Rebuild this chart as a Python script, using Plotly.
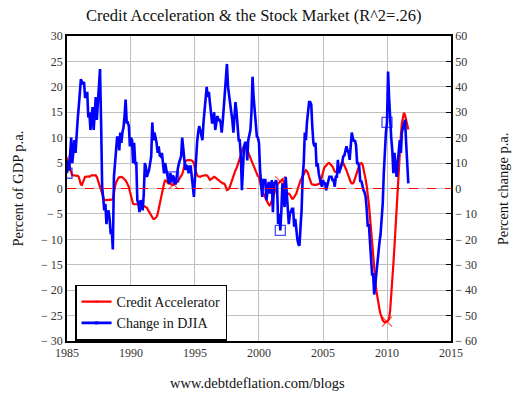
import pandas as pd
import plotly.graph_objects as go

# ---------------- data (monthly, Jan 1985 - Sep 2011) ----------------
start_month = "1985-01-01"

credit_accel = [
    6.0, 5.5, 5.0, 3.8, 3.0, 2.6, 2.6, 2.6, 2.6, 2.6, 2.5, 2.3,          # 1985
    1.5, 0.8, 0.7, 1.2, 2.0, 2.3, 2.3, 2.4, 2.4, 2.3, 2.5, 2.6,          # 1986
    2.6, 2.6, 2.6, 2.6, 2.3, 1.6, 1.0, 0.3, 0.0, -0.8, -1.6, -2.3,       # 1987
    -2.3, -2.3, -2.3, -2.3, -2.2, -2.2, -2.2, -2.1, -0.5, 0.3, 1.2, 1.8, # 1988
    2.0, 2.2, 2.3, 2.3, 2.2, 2.0, 1.8, 1.6, 1.2, 0.8, 0.3, -0.6,         # 1989
    -1.5, -2.3, -3.0, -3.1, -3.1, -3.0, -3.0, -3.0, -3.0, -3.1, -3.2, -3.3,  # 1990
    -3.4, -3.5, -3.6, -3.8, -4.2, -4.6, -5.0, -5.4, -5.8, -6.0, -6.0, -5.8,  # 1991
    -5.6, -5.0, -4.0, -2.6, -1.5, -0.6, 0.3, 1.0, 1.7, 1.5, 1.2, 1.0,    # 1992
    1.0, 0.9, 0.8, 0.7, 0.8, 1.0, 1.2, 1.3, 1.4, 1.8, 2.1, 2.3,          # 1993
    2.8, 3.6, 4.4, 5.3, 5.5, 5.6, 5.6, 5.6, 5.6, 5.5, 5.3, 5.0,          # 1994
    3.8, 3.0, 2.7, 2.4, 2.3, 2.3, 2.4, 2.5, 2.5, 2.6, 2.6, 2.6,          # 1995
    2.4, 2.0, 1.7, 1.8, 2.0, 2.2, 2.3, 2.2, 2.0, 1.7, 1.5, 1.4,          # 1996
    1.3, 1.2, 1.0, 1.0, 0.8, 0.3, -0.3, -0.2, 0.0, 0.5, 1.2, 2.0,        # 1997
    2.6, 3.2, 3.6, 4.0, 4.6, 5.3, 5.6, 6.5, 7.3, 8.0, 8.1, 8.0,          # 1998
    8.0, 7.6, 7.0, 6.6, 6.0, 5.5, 5.0, 4.4, 3.8, 3.3, 2.8, 2.4,          # 1999
    2.3, 1.0, 0.3, -0.5, -1.0, -1.4, -1.8, -2.3, -2.7, -3.1, -3.3, -3.0, # 2000
    -2.3, -1.7, -1.0, -0.3, 0.3, 0.6, 1.0, 1.2, 1.4, 1.7, 1.8, 1.5,      # 2001
    0.5, -0.5, -1.0, -1.0, -1.0, -1.2, -1.6, -2.0, -2.0, -1.7, -1.3, -1.0,  # 2002
    -0.3, 0.5, 1.0, 1.6, 2.0, 2.3, 2.8, 3.3, 3.6, 3.4, 3.0, 2.3,         # 2003
    1.6, 1.0, 0.8, 0.7, 0.7, 0.7, 0.7, 0.8, 0.9, 1.0, 1.5, 2.5,          # 2004
    3.6, 4.0, 4.3, 4.6, 4.8, 5.0, 5.0, 4.8, 4.6, 4.3, 3.8, 3.3,          # 2005
    3.3, 3.4, 3.5, 3.6, 4.0, 4.6, 5.3, 5.0, 4.6, 4.3, 3.6, 3.0,          # 2006
    2.3, 1.7, 1.3, 1.0, 1.0, 1.3, 2.0, 2.8, 3.6, 4.2, 4.6, 4.9,          # 2007
    5.0, 4.8, 4.0, 2.8, 1.8, 0.5, -1.0, -3.0, -5.5, -8.3, -11.0, -13.6,  # 2008
    -16.0, -18.0, -20.0, -21.6, -22.8, -23.8, -24.7, -25.5, -25.9, -26.2, -26.3, -26.2,  # 2009
    -26.2, -26.0, -25.6, -24.0, -21.5, -18.5, -14.9, -11.5, -7.5, -4.3, -0.5, 4.5,      # 2010
    8.0, 10.5, 12.9, 14.2, 14.9, 14.4, 13.5, 12.7, 11.6,                 # 2011
]

djia_change = [
    6, 11, 7, 12, 20, 10, 15, 19, 14, 23, 27, 32,                        # 1985
    40, 43, 42, 41, 42, 36, 36, 38, 28, 30, 23, 28,                      # 1986
    32, 23, 30, 36, 27, 35, 44, 47, 26, 0.7, -4, -8.6,                   # 1987
    -6, -14, -10, -8.6, -12, -18, -16, -24, 4.6, 10, 16.6, 20,           # 1988
    20, 15, 22, 18, 22, 24, 28.5, 35, 26, 26, 24.5, 16.6,                # 1989
    20, 19, 10, 18, 10, 10, -4.6, -6, -9.3, -4.6, -6, -8.6,              # 1990
    -2, 10, 8.6, 4.6, 6, 7.3, 10, 12.6, 26, 19, 22, 20.5,                # 1991
    18, 14, 16.6, 13, 12.6, 14, 8, 6, 10, 8, 4.6, 3,                     # 1992
    2, 6, 2.6, 5, 4.6, 2, 2, 6, 8, 10, 12, 12.6,                         # 1993
    20, 15, 11, 7.3, 9, 8.6, 6, 8.6, 8.6, 3, 0.7, -3.3,                  # 1994
    5, 12.6, 18, 22, 24.5, 23, 21, 19, 26, 30, 36, 40,                   # 1995
    36, 38, 34, 28.5, 26, 26, 30, 23, 26, 28.5, 27, 27,                  # 1996
    26, 22, 26, 32.5, 38, 42, 49, 40, 36, 32.5, 30, 27,                  # 1997
    22, 28.5, 34, 30, 24.5, 19, 19, 12.6, -0.7, 7.3, 16.6, 18,           # 1998
    18, 11, 19, 21, 23, 30, 44, 36, 30, 23, 20.5, 20,                    # 1999
    18, 7.3, 2, -3.3, 3.3, 3.3, 3.3, -4.6, 0, 2.6, -2, 1,                # 2000
    3.3, -9.3, 2, 2, 3.3, 0.7, -14, -10, -16.5, -8.6, 2, -3,             # 2001
    -7.3, 4.6, -3, -8.6, -14, -10, -8.6, -8, -8, -15, -12, -16.5,        # 2002
    -20, -22, -22.5, -15, -8.6, 4.6, 10, 22, 19, 26, 30, 34,             # 2003
    34, 33, 24.5, 18, 16.6, 18, 8.6, 10, 6, 3.3, 2, 0.7,                 # 2004
    3.3, 2, 2, -0.7, 1, 3.3, 4.6, 4.6, 4.6, 3.3, 3.3, 0.7,               # 2005
    4.6, 4.6, 11.3, 6, 7, 8.6, 10, 12.6, 13, 15, 16.6, 15,               # 2006
    14, 11.3, 18, 22, 20, 18.5, 19, 17, 10, 10, 8.6, 2.6,                # 2007
    3, 0.7, -0.7, -1.5, -3.3, -8, -15, -14, -22, -30, -33.8, -33.8,      # 2008
    -41.7, -37.7, -33, -29.8, -24, -21, -18, -12, -6, 6, 18, 22,         # 2009
    26, 46, 36, 24.5, 20, 15, 6, 14, 10, 4.6, 10, 15,                    # 2010
    19, 14, 22, 24, 26, 27, 18, 7.3, 2,                                  # 2011
]

left_tickvals = [-30, -25, -20, -15, -10, -5, 0, 5, 10, 15, 20, 25, 30]
left_ticktext = ["\u2212 30", "\u2212 25", "\u2212 20", "\u2212 15", "\u2212 10", "\u2212 5",
                 "0", "5", "10", "15", "20", "25", "30"]
right_tickvals = [-60, -50, -40, -30, -20, -10, 0, 10, 20, 30, 40, 50, 60]
right_ticktext = ["\u2212 60", "\u2212 50", "\u2212 40", "\u2212 30", "\u2212 20", "\u2212 10",
                  "0", "10", "20", "30", "40", "50", "60"]

dates = pd.date_range(start_month, periods=len(credit_accel), freq="MS")

MARK_EVERY = 100
red_sizes = [10 if i % MARK_EVERY == 0 else 0 for i in range(len(credit_accel))]
blue_sizes = [10 if i % MARK_EVERY == 0 else 0 for i in range(len(djia_change))]

FONT = "Liberation Serif"
FONT2 = "Times New Roman, serif"

fig = go.Figure()

fig.add_trace(go.Scatter(
    x=dates[:len(djia_change)], y=djia_change, name="Change in DJIA", yaxis="y2",
    mode="lines+markers",
    line=dict(color="#0000FF", width=2.6),
    marker=dict(symbol="square-open", size=blue_sizes, color="#0000FF",
                line=dict(color="#0000FF", width=1.3)),
))
fig.add_trace(go.Scatter(
    x=dates, y=credit_accel, name="Credit Accelerator", yaxis="y",
    mode="lines+markers",
    line=dict(color="#FF0000", width=2.2),
    marker=dict(symbol="x-thin-open", size=red_sizes, color="#FF0000",
                line=dict(color="#FF0000", width=1.2)),
))

# zero reference line
fig.add_shape(type="line", xref="paper", x0=0, x1=1, yref="y", y0=0, y1=0,
              line=dict(color="#FF0000", width=1, dash="dash"), layer="above")

fig.update_layout(
    template="none",
    width=518, height=393,
    margin=dict(l=67, r=67, t=36, b=52),
    paper_bgcolor="white", plot_bgcolor="white",
    font=dict(family=FONT2, size=12, color="#333333"),
    title=dict(text="Credit Acceleration &amp; the Stock Market (R^2=.26)",
               x=0.49, xanchor="center", y=0.962, yanchor="middle",
               font=dict(family=FONT, size=16.5, color="#111111")),
    xaxis=dict(
        type="date",
        range=["1985-01-01", "2015-01-01"],
        dtick="M60", tick0="1985-01-01", tickformat="%Y",
        showgrid=True, gridcolor="#C0C0C0", gridwidth=1,
        showline=True, linecolor="black", linewidth=1.5, mirror=True,
        ticks="", tickfont=dict(family=FONT2, size=12, color="#333333"),
        zeroline=False,
    ),
    yaxis=dict(
        range=[-30, 30], tickvals=left_tickvals, ticktext=left_ticktext,
        showgrid=True, gridcolor="#C0C0C0", gridwidth=1,
        showline=True, linecolor="black", linewidth=1.5,
        ticks="", zeroline=False,
        tickfont=dict(family=FONT2, size=12, color="#333333"),
    ),
    yaxis2=dict(
        range=[-60, 60], tickvals=right_tickvals, ticktext=right_ticktext,
        overlaying="y", side="right", showgrid=False,
        showline=True, linecolor="black", linewidth=1.5,
        ticks="inside", ticklen=5, tickcolor="black", zeroline=False,
        tickfont=dict(family=FONT2, size=12, color="#333333"),
    ),
    showlegend=True,
    legend=dict(
        x=0.021, y=0.185, xanchor="left", yanchor="top",
        traceorder="reversed",
        bgcolor="white", bordercolor="black", borderwidth=1.5,
        font=dict(family=FONT2, size=14, color="#111111"),
        itemwidth=30, tracegroupgap=0,
    ),
    annotations=[
        dict(text="Percent of GDP p.a.", xref="paper", yref="paper",
             x=-0.13, y=0.5, xanchor="center", yanchor="middle", textangle=-90,
             showarrow=False, font=dict(family=FONT, size=14.5, color="#111111")),
        dict(text="Percent change p.a.", xref="paper", yref="paper",
             x=1.135, y=0.5, xanchor="center", yanchor="middle", textangle=-90,
             showarrow=False, font=dict(family=FONT, size=14.5, color="#111111")),
        dict(text="www.debtdeflation.com/blogs", xref="paper", yref="paper",
             x=0.495, y=-0.138, xanchor="center", yanchor="middle",
             showarrow=False, font=dict(family=FONT, size=14.5, color="#111111")),
    ],
)

fig.write_html(
    "out.html",
    config={"displayModeBar": False},
    post_script="document.body.style.margin='0';document.body.style.overflow='hidden';",
)
